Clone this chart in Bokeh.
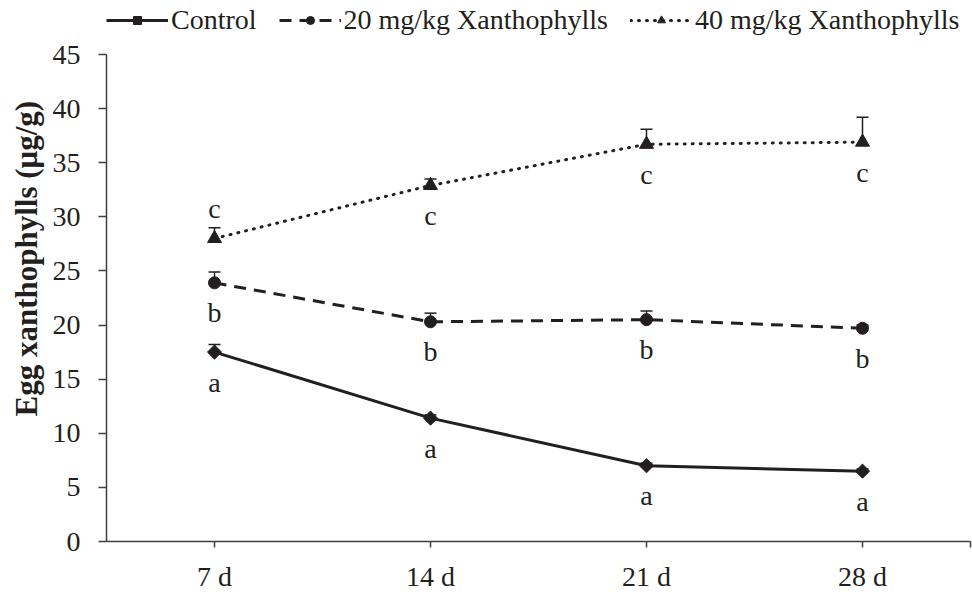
from bokeh.plotting import figure
from bokeh.layouts import column
from bokeh.models import (Range1d, FixedTicker, Legend, LegendItem, ColumnDataSource, Title)
from bokeh.core.properties import value
from bokeh.embed import file_html
from bokeh.resources import INLINE

# ---- data ----
days = ["7 d", "14 d", "21 d", "28 d"]
series_names = ["Control", "20 mg/kg Xanthophylls", "40 mg/kg Xanthophylls"]
control = [17.5, 11.4, 7.0, 6.5]
control_err = [0.7, 0.3, 0.25, 0.2]
control_letters = ["a", "a", "a", "a"]
xan20 = [23.9, 20.3, 20.5, 19.7]
xan20_err = [1.0, 0.8, 0.8, 0.3]
xan20_letters = ["b", "b", "b", "b"]
xan40 = [28.0, 32.9, 36.7, 36.9]
xan40_err = [1.0, 0.6, 1.4, 2.3]
xan40_letters = ["c", "c", "c", "c"]
letter_above_40 = [True, False, False, False]
y_ticks = [0, 5, 10, 15, 20, 25, 30, 35, 40, 45]
y_label = "Egg xanthophylls (μg/g)"

FONT = "Liberation Serif"
INK = "#231f20"
AXIS = "#404040"
DOT = "1 7"
LEG_H = 40

x = [i + 0.5 for i in range(len(days))]

p = figure(width=972, height=594 - LEG_H, output_backend="svg", toolbar_location=None,
           x_range=Range1d(0, len(days)), y_range=Range1d(0, 45),
           min_border_left=102, min_border_right=2, min_border_top=54 - LEG_H,
           min_border_bottom=51)
p.outline_line_color = None
p.xgrid.visible = False
p.ygrid.visible = False

# axes
p.xaxis.ticker = FixedTicker(ticks=x + [len(days)])
p.xaxis.major_label_overrides = {**{xi: d for xi, d in zip(x, days)}, len(days): ""}
p.yaxis.ticker = FixedTicker(ticks=y_ticks)
p.xaxis.minor_tick_line_color = None
p.yaxis.minor_tick_line_color = None
for ax in (p.xaxis, p.yaxis):
    ax.axis_line_color = AXIS
    ax.axis_line_width = 1.5
    ax.major_tick_line_color = AXIS
    ax.major_tick_line_width = 1.5
    ax.major_tick_in = 0
    ax.major_label_text_font = FONT
    ax.major_label_text_font_size = "28px"
    ax.major_label_text_color = INK
p.xaxis.major_tick_out = 6
p.yaxis.major_tick_out = 8
p.yaxis.major_label_standoff = 18
p.xaxis.major_label_standoff = 13

p.add_layout(Title(text=y_label, align="left", offset=125, standoff=12,
                   text_font=FONT, text_font_style="bold", text_font_size="31px",
                   text_color=INK), "left")

# legend strip (its own small figure)
lf = figure(width=972, height=LEG_H, output_backend="svg", toolbar_location=None,
            x_range=Range1d(0, 1), y_range=Range1d(0, 1),
            x_axis_location=None, y_axis_location=None, min_border=0,
            min_border_left=0, min_border_right=0, min_border_top=0, min_border_bottom=0)
lf.outline_line_color = None
lf.xgrid.visible = False
lf.ygrid.visible = False

def draw(vals, errs, letters, marker, msize, dash, angle=0.0, above=None):
    top = [v + e for v, e in zip(vals, errs)]
    src = ColumnDataSource(dict(x=x, y=vals, top=top))
    p.segment(x0="x", y0="y", x1="x", y1="top", source=src, line_color=INK, line_width=1.5)
    p.scatter(x="x", y="top", source=src, marker="dash", size=12, line_color=INK, line_width=1.5)
    cap = "round" if dash == DOT else "butt"
    p.line(x="x", y="y", source=src, line_color=INK, line_width=3, line_dash=dash, line_cap=cap)
    p.scatter(x="x", y="y", source=src, marker=marker, size=msize, angle=angle,
              fill_color=INK, line_color=INK)
    if above is None:
        above = [False] * len(vals)
    offs = [-30 if a else 30 for a in above]
    tsrc = ColumnDataSource(dict(x=x, y=vals, t=letters, dy=offs))
    p.text(x="x", y="y", text="t", y_offset="dy", source=tsrc, text_align="center",
           text_baseline="middle", text_font=value(FONT), text_font_size="28px",
           text_color=INK)
    # legend proxies (one undrawn NaN point, only styles matter)
    proxy = ColumnDataSource(dict(x=[float("nan")], y=[float("nan")]))
    ln = lf.line(x="x", y="y", source=proxy, line_color=INK, line_width=3, line_dash=dash,
                 line_cap=cap)
    mk = lf.scatter(x="x", y="y", source=proxy, marker=marker, size=msize, angle=angle,
                    fill_color=INK, line_color=INK)
    return [ln, mk]

r1 = draw(control, control_err, control_letters, "square", 10, "solid", angle=0.785398)
r2 = draw(xan20, xan20_err, xan20_letters, "circle", 12, "12 8")
r3 = draw(xan40, xan40_err, xan40_letters, "triangle", 14, DOT, above=letter_above_40)

legend = Legend(items=[LegendItem(label=series_names[0], renderers=r1),
                       LegendItem(label=series_names[1], renderers=r2),
                       LegendItem(label=series_names[2], renderers=r3)],
                orientation="horizontal", location=(0, 4),
                glyph_width=62, glyph_height=20, label_standoff=3, spacing=22,
                padding=0, margin=0, border_line_alpha=0, background_fill_alpha=0,
                label_text_font=FONT, label_text_font_size="28px", label_text_color=INK)
lf.add_layout(legend)

layout = column(lf, p, spacing=0)
open("out.html", "w").write(file_html(layout, INLINE))
